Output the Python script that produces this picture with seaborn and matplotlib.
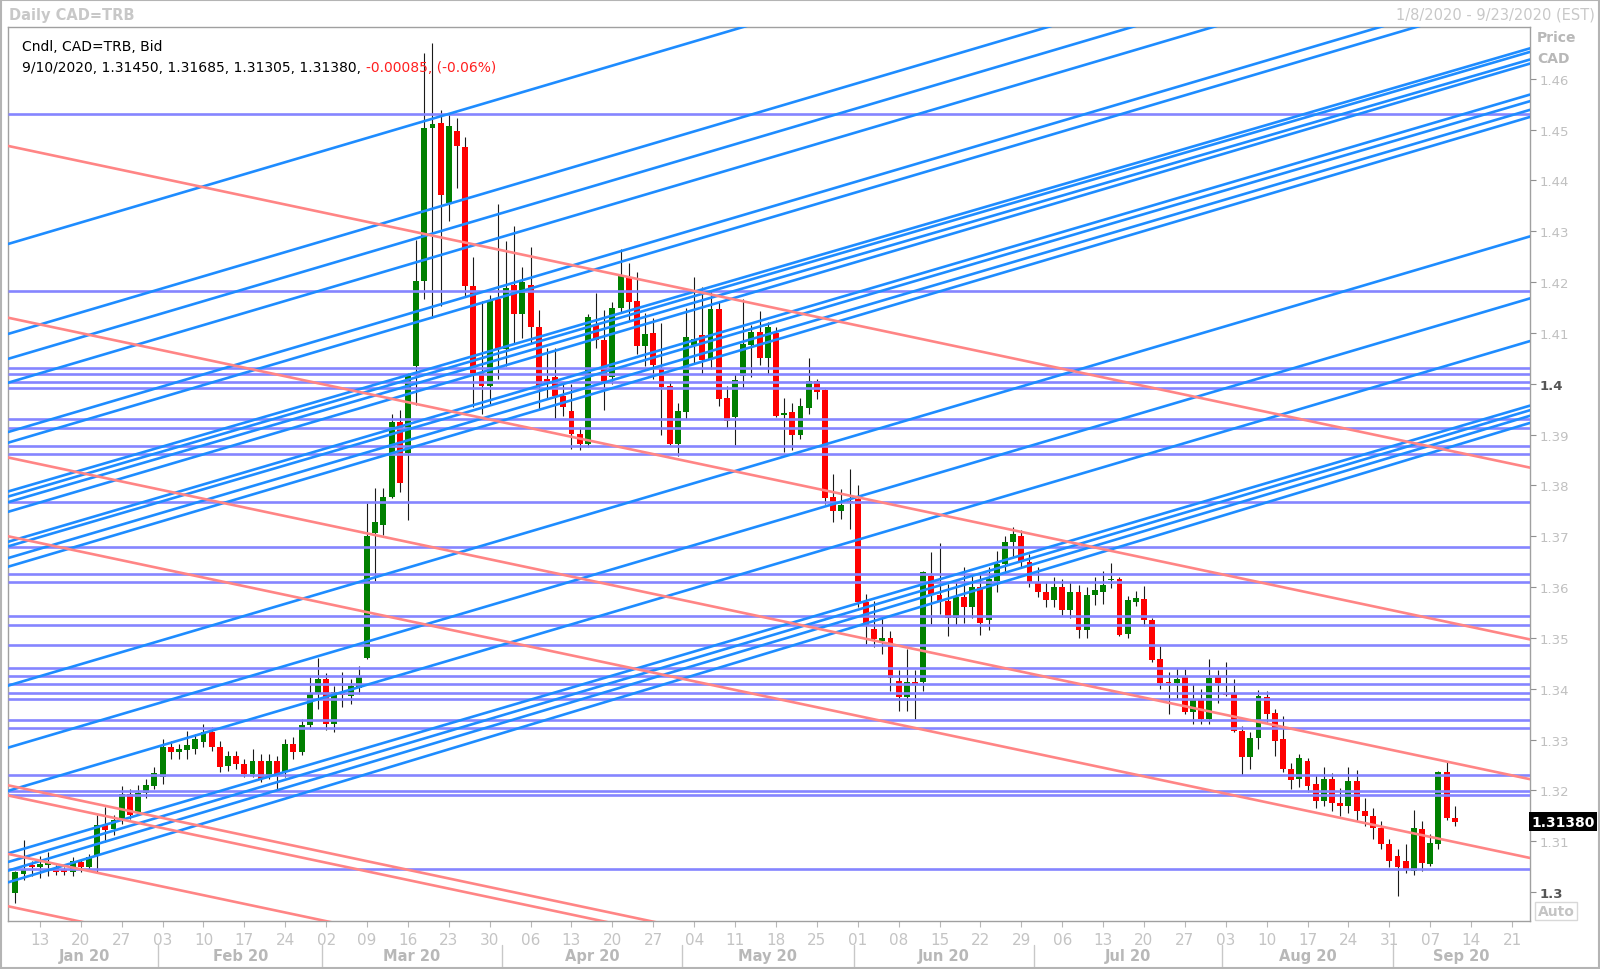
import numpy as np
import pandas as pd
import seaborn as sns
import matplotlib.pyplot as plt
from matplotlib.patches import Rectangle
from matplotlib.transforms import blended_transform_factory

# Trading days on the axis (chart window 1/8/2020 - 9/23/2020, candles up to 9/10)
dates = pd.bdate_range("2020-01-08", "2020-09-23")

opens = [1.2999, 1.3035, 1.3053, 1.3049, 1.3053, 1.3047, 1.3043, 1.3039, 1.3059, 1.3049,
         1.3071, 1.3132, 1.3124, 1.3144, 1.3193, 1.3157, 1.3195, 1.3209, 1.3226, 1.3285,
         1.3276, 1.3279, 1.3281, 1.3295, 1.3315, 1.3285, 1.3248, 1.3268, 1.3252, 1.3232,
         1.3258, 1.3228, 1.3258, 1.3236, 1.3291, 1.3276, 1.3329, 1.3390, 1.3419, 1.3330,
         1.3394, 1.3385, 1.3402, 1.3460, 1.3706, 1.3723, 1.3778, 1.3925, 1.3864, 1.4034,
         1.4203, 1.4504, 1.4514, 1.4356, 1.4498, 1.4465, 1.4192, 1.4021, 1.3996, 1.4167,
         1.4068, 1.4194, 1.4137, 1.4195, 1.4111, 1.4009, 1.4013, 1.3975, 1.3947, 1.3902,
         1.3881, 1.4116, 1.4086, 1.4013, 1.4150, 1.4208, 1.4162, 1.4074, 1.4100, 1.4029,
         1.3996, 1.3882, 1.3944, 1.4076, 1.4095, 1.4049, 1.4147, 1.3972, 1.3934, 1.4016,
         1.4076, 1.4101, 1.4050, 1.4100, 1.3939, 1.3944, 1.3899, 1.3952, 1.4006, 1.3987,
         1.3777, 1.3750, 1.3770, 1.3773, 1.3570, 1.3518, 1.3493, 1.3500, 1.3416, 1.3383,
         1.3414, 1.3413, 1.3621, 1.3585, 1.3573, 1.3539, 1.3580, 1.3560, 1.3600, 1.3535,
         1.3612, 1.3645, 1.3688, 1.3700, 1.3650, 1.3610, 1.3590, 1.3575, 1.3600, 1.3555,
         1.3590, 1.3515, 1.3585, 1.3590, 1.3613, 1.3616, 1.3508, 1.3570, 1.3577, 1.3535,
         1.3458, 1.3414, 1.3411, 1.3424, 1.3354, 1.3378, 1.3340, 1.3424, 1.3391, 1.3390,
         1.3317, 1.3265, 1.3304, 1.3383, 1.3352, 1.3302, 1.3243, 1.3222, 1.3258, 1.3213,
         1.3180, 1.3222, 1.3175, 1.3170, 1.3218, 1.3160, 1.3150, 1.3125, 1.3095, 1.3070,
         1.3062, 1.3042, 1.3124, 1.3055, 1.3094, 1.3236, 1.31450]
highs = [1.3041, 1.3102, 1.3061, 1.3071, 1.3079, 1.3053, 1.3049, 1.3069, 1.3065, 1.3075,
         1.3152, 1.3167, 1.3152, 1.3209, 1.3203, 1.3211, 1.3222, 1.3246, 1.3301, 1.3297,
         1.3291, 1.3317, 1.3311, 1.3331, 1.3325, 1.3297, 1.3278, 1.3278, 1.3262, 1.3282,
         1.3272, 1.3272, 1.3268, 1.3301, 1.3305, 1.3341, 1.3423, 1.3460, 1.3430, 1.3405,
         1.3432, 1.3420, 1.3445, 1.3766, 1.3795, 1.3795, 1.3941, 1.3949, 1.4022, 1.4282,
         1.4651, 1.4671, 1.4538, 1.4531, 1.4522, 1.4485, 1.4250, 1.4162, 1.4175, 1.4354,
         1.4280, 1.4310, 1.4230, 1.4270, 1.4145, 1.4070, 1.4070, 1.4000, 1.4000, 1.3915,
         1.4137, 1.4179, 1.4145, 1.4160, 1.4266, 1.4238, 1.4220, 1.4140, 1.4130, 1.4120,
         1.4005, 1.3963, 1.4150, 1.4211, 1.4190, 1.4183, 1.4160, 1.3995, 1.4019, 1.4167,
         1.4115, 1.4144, 1.4121, 1.4111, 1.3972, 1.3962, 1.3972, 1.4050, 1.4010, 1.3990,
         1.3823, 1.3792, 1.3832, 1.3801, 1.3586, 1.3573, 1.3539, 1.3514, 1.3436, 1.3478,
         1.3436, 1.3632, 1.3669, 1.3687, 1.3606, 1.3610, 1.3640, 1.3625, 1.3630, 1.3640,
         1.3670, 1.3700, 1.3718, 1.3712, 1.3665, 1.3640, 1.3610, 1.3620, 1.3615, 1.3610,
         1.3605, 1.3600, 1.3620, 1.3631, 1.3647, 1.3620, 1.3583, 1.3592, 1.3602, 1.3540,
         1.3485, 1.3432, 1.3440, 1.3438, 1.3409, 1.3400, 1.3459, 1.3436, 1.3452, 1.3419,
         1.3327, 1.3314, 1.3398, 1.3396, 1.3360, 1.3347, 1.3254, 1.3272, 1.3263, 1.3230,
         1.3245, 1.3235, 1.3205, 1.3245, 1.3240, 1.3185, 1.3165, 1.3140, 1.3105, 1.3085,
         1.3094, 1.3161, 1.3140, 1.3114, 1.3239, 1.3258, 1.31685]
lows = [1.2978, 1.3024, 1.3031, 1.3028, 1.3031, 1.3033, 1.3034, 1.3031, 1.3039, 1.3041,
        1.3037, 1.3098, 1.3112, 1.3134, 1.3144, 1.3151, 1.3185, 1.3203, 1.3213, 1.3262,
        1.3262, 1.3262, 1.3272, 1.3285, 1.3278, 1.3236, 1.3238, 1.3242, 1.3226, 1.3226,
        1.3216, 1.3222, 1.3198, 1.3226, 1.3262, 1.3270, 1.3321, 1.3360, 1.3318, 1.3315,
        1.3365, 1.3370, 1.3390, 1.3459, 1.3612, 1.3702, 1.3776, 1.3788, 1.3731, 1.3958,
        1.4167, 1.4130, 1.4154, 1.4320, 1.4385, 1.4173, 1.3955, 1.3940, 1.3960, 1.4010,
        1.4035, 1.4080, 1.4090, 1.4080, 1.3948, 1.3970, 1.3930, 1.3937, 1.3872, 1.3870,
        1.3875, 1.4070, 1.3948, 1.4000, 1.4140, 1.4125, 1.4059, 1.4035, 1.4010, 1.3899,
        1.3880, 1.3858, 1.3930, 1.4040, 1.4020, 1.4030, 1.3957, 1.3912, 1.3880, 1.3990,
        1.4013, 1.4036, 1.4019, 1.3934, 1.3866, 1.3869, 1.3892, 1.3941, 1.3970, 1.3764,
        1.3728, 1.3734, 1.3714, 1.3560, 1.3488, 1.3482, 1.3468, 1.3396, 1.3357, 1.3357,
        1.3340, 1.3396, 1.3527, 1.3547, 1.3504, 1.3525, 1.3530, 1.3540, 1.3505, 1.3515,
        1.3590, 1.3630, 1.3660, 1.3640, 1.3600, 1.3580, 1.3560, 1.3560, 1.3545, 1.3540,
        1.3500, 1.3500, 1.3565, 1.3566, 1.3598, 1.3503, 1.3499, 1.3562, 1.3524, 1.3453,
        1.3400, 1.3350, 1.3380, 1.3350, 1.3331, 1.3330, 1.3331, 1.3372, 1.3386, 1.3314,
        1.3230, 1.3242, 1.3281, 1.3334, 1.3268, 1.3236, 1.3203, 1.3206, 1.3196, 1.3165,
        1.3170, 1.3160, 1.3150, 1.3155, 1.3140, 1.3130, 1.3105, 1.3085, 1.3050, 1.2993,
        1.3037, 1.3034, 1.3042, 1.3052, 1.3085, 1.3142, 1.31305]
closes = [1.3039, 1.3044, 1.3049, 1.3055, 1.3059, 1.3039, 1.3039, 1.3061, 1.3049, 1.3069,
          1.3132, 1.3122, 1.3142, 1.3193, 1.3152, 1.3195, 1.3211, 1.3234, 1.3285, 1.3276,
          1.3281, 1.3289, 1.3301, 1.3315, 1.3285, 1.3246, 1.3268, 1.3252, 1.3232, 1.3258,
          1.3222, 1.3258, 1.3228, 1.3291, 1.3276, 1.3329, 1.3390, 1.3420, 1.3330, 1.3394,
          1.3388, 1.3405, 1.3423, 1.3701, 1.3729, 1.3777, 1.3925, 1.3804, 1.4019, 1.4203,
          1.4504, 1.4512, 1.4372, 1.4508, 1.4467, 1.4192, 1.4017, 1.3996, 1.4162, 1.4068,
          1.4188, 1.4137, 1.4201, 1.4111, 1.3996, 1.4000, 1.3975, 1.3955, 1.3902, 1.3881,
          1.4132, 1.4086, 1.4004, 1.4150, 1.4212, 1.4161, 1.4074, 1.4098, 1.4036, 1.3993,
          1.3882, 1.3947, 1.4092, 1.4088, 1.4046, 1.4147, 1.3970, 1.3926, 1.4008, 1.4078,
          1.4101, 1.4050, 1.4111, 1.3937, 1.3943, 1.3899, 1.3957, 1.4006, 1.3983, 1.3775,
          1.3750, 1.3762, 1.3765, 1.3571, 1.3524, 1.3498, 1.3500, 1.3421, 1.3383, 1.3414,
          1.3409, 1.3629, 1.3587, 1.3570, 1.3539, 1.3580, 1.3560, 1.3600, 1.3530, 1.3615,
          1.3645, 1.3688, 1.3705, 1.3650, 1.3610, 1.3590, 1.3575, 1.3600, 1.3555, 1.3590,
          1.3515, 1.3585, 1.3595, 1.3604, 1.3616, 1.3506, 1.3575, 1.3578, 1.3536, 1.3457,
          1.3411, 1.3411, 1.3420, 1.3354, 1.3380, 1.3340, 1.3421, 1.3411, 1.3388, 1.3317,
          1.3265, 1.3304, 1.3385, 1.3350, 1.3298, 1.3242, 1.3221, 1.3263, 1.3209, 1.3180,
          1.3222, 1.3175, 1.3170, 1.3218, 1.3160, 1.3150, 1.3125, 1.3095, 1.3062, 1.3050,
          1.3044, 1.3125, 1.3058, 1.3096, 1.3236, 1.31465, 1.31380]

# Drawn support/resistance levels
h_levels = [1.4531, 1.4183, 1.4032, 1.4019, 1.4004, 1.3992, 1.3930, 1.3912, 1.3878, 1.3862,
            1.3767, 1.3679, 1.3625, 1.3609, 1.3543, 1.3525, 1.3486, 1.3440, 1.3426, 1.3410,
            1.3392, 1.3380, 1.3338, 1.3322, 1.3231, 1.3199, 1.3191, 1.3046]

# Rising trend lines: price at left edge / right edge of the window
up_left = [1.4275, 1.4098, 1.4049, 1.4002, 1.3905, 1.3884, 1.3788, 1.3778, 1.3767, 1.3748,
           1.3689, 1.3680, 1.3657, 1.3640, 1.3406, 1.3284, 1.3199, 1.3076, 1.3059, 1.3042, 1.3019]
up_right = [1.5159, 1.4982, 1.4933, 1.4886, 1.4789, 1.4768, 1.4660, 1.4653, 1.4638, 1.4630,
            1.4569, 1.4556, 1.4539, 1.4525, 1.4290, 1.4168, 1.4084, 1.3957, 1.3948, 1.3937, 1.3923]

# Falling trend lines
down_left = [1.4468, 1.4130, 1.3855, 1.3700, 1.3210, 1.3190, 1.3075, 1.2972]
down_right = [1.3835, 1.3497, 1.3222, 1.3067, 1.2577, 1.2557, 1.2442, 1.2339]

price_ticks = [1.30, 1.31, 1.32, 1.33, 1.34, 1.35, 1.36, 1.37, 1.38,
               1.39, 1.40, 1.41, 1.42, 1.43, 1.44, 1.45, 1.46]

sns.set_theme(style="white")
plt.rcParams["font.family"] = ["DejaVu Sans"]

fig = plt.figure(figsize=(16, 9.7), dpi=100)
fig.patch.set_facecolor("white")
ax = fig.add_axes([0.005, 0.0495, 0.95125, 0.92165])

x0, x1 = -0.9, 185.2

# Candles
xs = np.arange(len(closes))
o = np.array(opens)
c = np.array(closes)
body_lo = np.minimum(o, c)
body_h = np.maximum(np.abs(c - o), 0.00025)
body_col = np.where(c >= o, "#008000", "#ff0000")
ax.vlines(xs, lows, highs, color="#1a1a1a", lw=0.8, zorder=2)
ax.bar(xs, body_h, bottom=body_lo, width=0.72, color=body_col, linewidth=0, zorder=3)

# Horizontal levels
ax.hlines(h_levels, x0, x1, color="#8585ff", lw=1.9, zorder=4)


def seg_frame(left, right):
    k = len(left)
    ys = [v for pair in zip(left, right) for v in pair]
    return pd.DataFrame({"x": [x0, x1] * k, "y": ys, "line": np.repeat(np.arange(k), 2)})


sns.lineplot(data=seg_frame(up_left, up_right), x="x", y="y", units="line",
             estimator=None, sort=False, color="#1e8cff", lw=1.9, ax=ax, legend=False, zorder=5)
sns.lineplot(data=seg_frame(down_left, down_right), x="x", y="y", units="line",
             estimator=None, sort=False, color="#ff8585", lw=1.9, ax=ax, legend=False, zorder=5)

ax.set_xlim(x0, x1)
ax.set_ylim(1.2943, 1.4702)
ax.set_xlabel("")
ax.set_ylabel("")
ax.grid(False)
for sp in ax.spines.values():
    sp.set_visible(True)
    sp.set_color("#a0a0a0")
    sp.set_linewidth(1.0)

# Right price axis
ax.yaxis.tick_right()
ax.set_yticks(price_ticks)
ax.set_yticklabels([f"{p:.1f}" if round(p * 100) % 10 == 0 else f"{p:.2f}" for p in price_ticks])
ax.tick_params(axis="y", right=True, left=False, length=4, width=0.8, color="#909090",
               labelsize=9.5, pad=3)
for lab, p in zip(ax.get_yticklabels(), price_ticks):
    if round(p * 100) % 10 == 0:
        lab.set_color("#555555")
        lab.set_fontweight("bold")
    else:
        lab.set_color("#c0c0c0")

# Bottom date axis: Mondays
mondays = [i for i, d in enumerate(dates) if d.weekday() == 0]
ax.set_xticks(mondays)
ax.set_xticklabels([dates[i].strftime("%d") for i in mondays],
                   family=["Liberation Sans Narrow", "DejaVu Sans"])
ax.tick_params(axis="x", bottom=True, length=4, width=0.8, color="#b8b8b8",
               labelcolor="#c4c4c4", labelsize=11, pad=4)

# Month labels and separators
trans = blended_transform_factory(ax.transData, ax.transAxes)
month_key = dates.to_period("M")
for m in month_key.unique():
    idx = np.where(month_key == m)[0]
    lo = max(idx.min() - 0.5, x0)
    hi = min(idx.max() + 0.5, x1)
    ax.text((lo + hi) / 2, -0.039, m.strftime("%b %y"), transform=trans, ha="center",
            va="center", fontsize=10.5, fontweight="bold", color="#b8b8b8", clip_on=False)
    if idx.min() > 0:
        ax.plot([idx.min() - 0.5] * 2, [-0.027, -0.052], transform=trans, color="#c8c8c8",
                lw=1, clip_on=False)

# Last price box
ax.text(1.001, closes[-1], f"{closes[-1]:.5f}", transform=blended_transform_factory(ax.transAxes, ax.transData),
        ha="left", va="center", fontsize=10, fontweight="bold", color="white",
        bbox=dict(facecolor="black", edgecolor="none", pad=1.8), clip_on=False)

# Header texts
fig.text(0.0056, 0.9845, "Daily CAD=TRB", fontsize=10.5, fontweight="bold", color="#c8c8c8", va="center")
fig.text(0.9969, 0.9845, "1/8/2020 - 9/23/2020 (EST)", fontsize=10.5, color="#c8c8c8", va="center", ha="right")
fig.text(0.9606, 0.9608, "Price", fontsize=10, fontweight="bold", color="#b8b8b8", va="center")
fig.text(0.9606, 0.9392, "CAD", fontsize=10, fontweight="bold", color="#b8b8b8", va="center")
fig.text(0.9725, 0.0598, "Auto", fontsize=10, fontweight="bold", color="#c4c4c4", va="center", ha="center",
         bbox=dict(facecolor="white", edgecolor="#d8d8d8", pad=1.5))

fig.text(0.014, 1 - 46.7 / 970, "Cndl, CAD=TRB, Bid", fontsize=10, color="black", va="center")
last_day = dates[len(closes) - 1]
chg = closes[-1] - closes[-2]
info = (f"{last_day.month}/{last_day.day}/{last_day.year}, {opens[-1]:.5f}, {highs[-1]:.5f}, "
        f"{lows[-1]:.5f}, {closes[-1]:.5f}, ")
t_info = fig.text(0.014, 1 - 68.3 / 970, info, fontsize=10, color="black", va="center")
fig.canvas.draw()
bb = t_info.get_window_extent()
fig.text(bb.x1 / fig.bbox.width, 1 - 68.3 / 970, f"{chg:.5f}, ({chg / closes[-2] * 100:.2f}%)",
         fontsize=10, color="#ff2020", va="center")

# Outer frame
fig.patches.append(Rectangle((0.0005, 0.001), 0.999, 0.998, transform=fig.transFigure,
                             fill=False, edgecolor="#b4b4b4", lw=1.5))

fig.savefig("out.png", dpi=100, facecolor="white")
